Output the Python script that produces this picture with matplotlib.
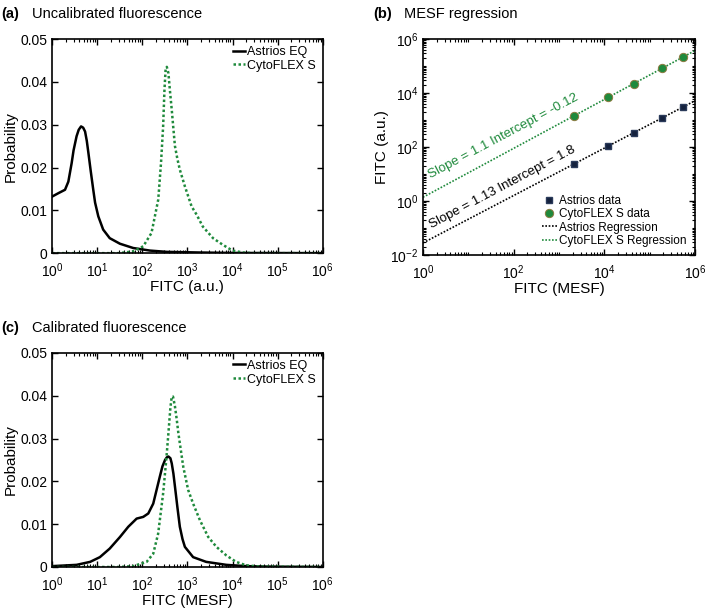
import numpy as np
import matplotlib
matplotlib.use("Agg")
import matplotlib.pyplot as plt
from matplotlib.ticker import LogLocator, FixedLocator, FuncFormatter, NullFormatter

plt.rcParams["font.family"] = ["Liberation Sans", "DejaVu Sans"]
plt.rcParams["mathtext.fontset"] = "custom"
plt.rcParams["mathtext.rm"] = "Liberation Sans"
plt.rcParams["mathtext.it"] = "Liberation Sans:italic"
plt.rcParams["mathtext.bf"] = "Liberation Sans:bold"

GREEN = "#1f8a3c"

# (a) uncalibrated histograms
a_astrios_x = [1, 1.38, 1.94, 2.3, 2.72, 3.0, 3.5, 3.9, 4.4, 4.9, 5.4, 5.9, 6.4, 7.2,
               8.2, 9.0, 10.6, 13.6, 19, 32, 63, 148, 350, 1900, 10000, 1e6]
a_astrios_y = [0.0132, 0.014, 0.0148, 0.0167, 0.021, 0.0240, 0.0273, 0.0288, 0.0296,
               0.0293, 0.0284, 0.0262, 0.0234, 0.0192, 0.0148, 0.0118, 0.0086, 0.0055,
               0.0035, 0.0022, 0.0012, 0.0006, 0.0003, 0.00015, 0.00005, 0.0]
a_cyto_x = [1, 30, 63, 105, 160, 226, 260, 290, 310, 330, 350, 380, 410, 450, 490, 530,
            600, 680, 880, 1240, 1600, 2200, 3700, 6200, 10000, 17000, 28000, 1e6]
a_cyto_y = [0.0, 0.0, 0.0004, 0.0016, 0.0047, 0.0125, 0.021, 0.0296, 0.038, 0.0432,
            0.0435, 0.042, 0.038, 0.0335, 0.029, 0.025, 0.022, 0.0195, 0.0156, 0.0109,
            0.009, 0.0062, 0.0035, 0.0019, 0.0006, 0.00015, 0.0, 0.0]

# (b) bead calibration points
mesf = [2140, 11800, 45000, 185000, 535000]
astrios_au = [24, 105, 325, 1230, 3000]
cyto_au = [1440, 6900, 21400, 83000, 215000]

# (c) calibrated histograms
c_astrios_x = [1, 3.5, 7, 11.5, 19, 32, 49, 75, 105, 136, 175, 245, 280, 320, 350, 380,
               420, 450, 490, 530, 600, 680, 780, 880, 1340, 2600, 7300, 20000, 56000, 1e6]
c_astrios_y = [0.0002, 0.0005, 0.0012, 0.0023, 0.0043, 0.007, 0.0094, 0.0113, 0.0117,
               0.0125, 0.0148, 0.0211, 0.0235, 0.025, 0.0256, 0.0258, 0.0254, 0.0242,
               0.0218, 0.0188, 0.014, 0.0094, 0.0065, 0.0047, 0.0023, 0.0012, 0.0005,
               0.0002, 0.0001, 0.0]
c_cyto_x = [1, 30, 63, 125, 175, 225, 290, 340, 380, 420, 450, 480, 530, 580, 630, 810,
            1040, 1340, 1900, 2900, 4400, 7300, 12000, 20000, 40000, 1e6]
c_cyto_y = [0.0, 0.0, 0.0002, 0.0012, 0.0031, 0.0078, 0.0172, 0.025, 0.0313, 0.0372,
            0.0398, 0.0398, 0.0375, 0.0345, 0.0313, 0.0234, 0.018, 0.0148, 0.0109,
            0.007, 0.0047, 0.0027, 0.0012, 0.0004, 0.0001, 0.0]


def style_axes(ax):
    for s in ax.spines.values():
        s.set_linewidth(1.2)
    ax.tick_params(which="both", direction="in", top=True, right=True, labelsize=10)
    ax.tick_params(which="major", length=4, width=1)
    ax.tick_params(which="minor", length=2, width=0.8)
    ax.tick_params(axis="x", which="both", pad=6)


def prob_fmt(v, pos):
    return "0" if abs(v) < 1e-12 else f"{v:.2f}"


def hist_panel(ax, xa, ya, xc, yc, xlabel):
    ax.plot(xa, ya, color="black", lw=1.8, label="Astrios EQ")
    ax.plot(xc, yc, color=GREEN, lw=1.8, ls=(0, (1, 1)), label="CytoFLEX S")
    ax.set_xscale("log")
    ax.set_xlim(1, 1e6)
    ax.set_ylim(0, 0.05)
    ax.xaxis.set_major_locator(LogLocator(base=10, numticks=10))
    ax.xaxis.set_minor_locator(LogLocator(base=10, subs=np.arange(2, 10), numticks=20))
    ax.xaxis.set_minor_formatter(NullFormatter())
    ax.set_yticks([0, 0.01, 0.02, 0.03, 0.04, 0.05])
    ax.yaxis.set_major_formatter(FuncFormatter(prob_fmt))
    ax.set_xlabel(xlabel, fontsize=11, labelpad=0)
    ax.set_ylabel("Probability", fontsize=11, labelpad=2)
    style_axes(ax)
    ax.legend(loc="upper right", frameon=False, fontsize=9, handlelength=1.0,
              handletextpad=0.15, borderaxespad=0.15, labelspacing=0.15)


fig = plt.figure(figsize=(7.05, 6.1), dpi=100)
ax_a = fig.add_axes([0.0738, 0.585, 0.384, 0.351])
ax_b = fig.add_axes([0.600, 0.582, 0.386, 0.354])
ax_c = fig.add_axes([0.0738, 0.0705, 0.384, 0.351])

hist_panel(ax_a, a_astrios_x, a_astrios_y, a_cyto_x, a_cyto_y, "FITC (a.u.)")
hist_panel(ax_c, c_astrios_x, c_astrios_y, c_cyto_x, c_cyto_y, "FITC (MESF)")

# (b) regression in log-log space
lx = np.log10(mesf)
pa = np.polyfit(lx, np.log10(astrios_au), 1)
pc = np.polyfit(lx, np.log10(cyto_au), 1)
xx = np.array([1.0, 1e6])
ax_b.plot(mesf, astrios_au, ls="none", marker="s", ms=4, color="#14213d",
          mec="#2a3a5a", label="Astrios data", zorder=3)
ax_b.plot(mesf, cyto_au, ls="none", marker="o", ms=6, color=GREEN,
          mec="#8a7a40", mew=0.7, label="CytoFLEX S data", zorder=3)
ax_b.plot(xx, 10 ** np.polyval(pa, np.log10(xx)), color="black", lw=1.2,
          ls=(0, (1, 1)), label="Astrios Regression")
ax_b.plot(xx, 10 ** np.polyval(pc, np.log10(xx)), color=GREEN, lw=1.2,
          ls=(0, (1, 1)), label="CytoFLEX S Regression")
ax_b.set_xscale("log")
ax_b.set_yscale("log")
ax_b.set_xlim(1, 1e6)
ax_b.set_ylim(1e-2, 1e6)
ax_b.xaxis.set_major_locator(FixedLocator([1, 1e2, 1e4, 1e6]))
ax_b.xaxis.set_minor_locator(LogLocator(base=10, subs=np.arange(1, 10), numticks=20))
ax_b.xaxis.set_minor_formatter(NullFormatter())
ax_b.yaxis.set_major_locator(FixedLocator([1e-2, 1, 1e2, 1e4, 1e6]))
ax_b.yaxis.set_minor_locator(LogLocator(base=10, subs=np.arange(1, 10), numticks=20))
ax_b.yaxis.set_minor_formatter(NullFormatter())
ax_b.set_xlabel("FITC (MESF)", fontsize=11, labelpad=0)
ax_b.set_ylabel("FITC (a.u.)", fontsize=11, labelpad=1)
style_axes(ax_b)
ax_b.text(1.6, 5.5, "Slope = 1.1 Intercept = -0.12", color=GREEN, fontsize=9.5,
          rotation=28, rotation_mode="anchor", ha="left", va="bottom")
ax_b.text(1.7, 0.08, "Slope = 1.13 Intercept = 1.8", color="black", fontsize=9.5,
          rotation=28, rotation_mode="anchor", ha="left", va="bottom")
ax_b.legend(loc="lower right", frameon=False, fontsize=8.5, handlelength=1.3,
            handletextpad=0.2, borderaxespad=0.3, labelspacing=0.1)

# panel titles
for x0, y0, tag, title in [(0.0, 0.977, "(a)", "Uncalibrated fluorescence"),
                           (0.528, 0.977, "(b)", "MESF regression"),
                           (0.0, 0.463, "(c)", "Calibrated fluorescence")]:
    fig.text(x0 + 0.002, y0, tag, fontsize=10.5, fontweight="bold", va="center")
    fig.text(x0 + 0.045, y0, title, fontsize=10.5, va="center")

fig.savefig("out.png", dpi=100)
